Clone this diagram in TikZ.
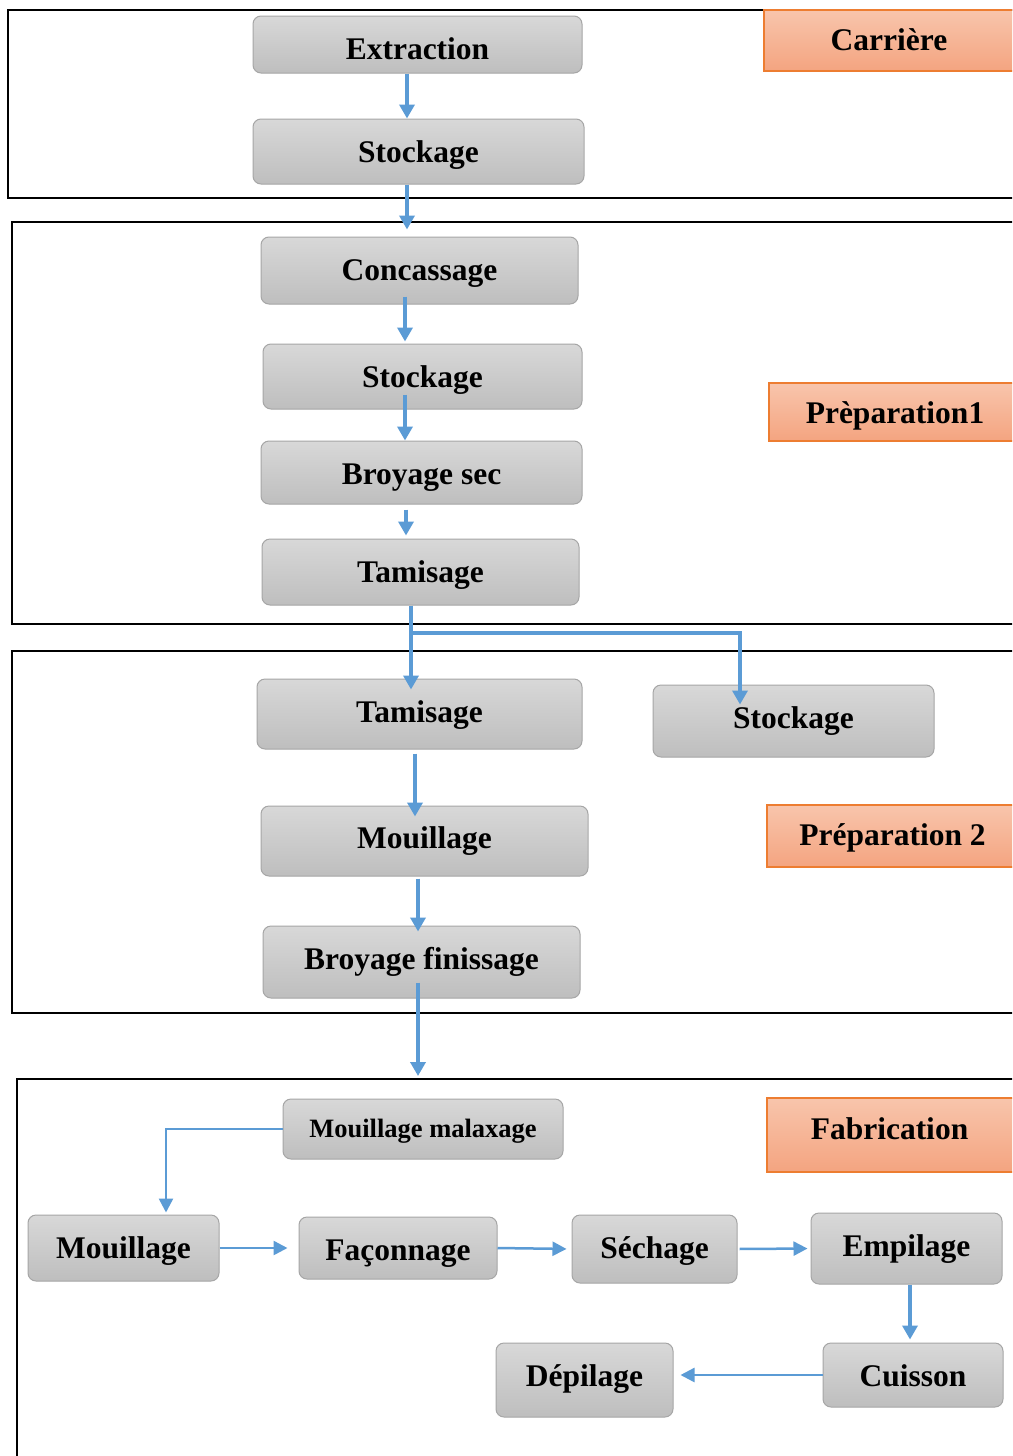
\documentclass[tikz,border=0pt]{standalone}
\usepackage{fontspec}
\setmainfont{Liberation Serif}
\usetikzlibrary{arrows.meta,calc}
\definecolor{flowblue}{RGB}{91,155,213}
\definecolor{boxedge}{RGB}{166,166,166}
\definecolor{boxtop}{RGB}{216,216,216}
\definecolor{boxbot}{RGB}{190,190,190}
\definecolor{ortop}{RGB}{248,197,172}
\definecolor{orbot}{RGB}{244,164,128}
\definecolor{oredge}{RGB}{237,125,49}
\tikzset{
  proc/.style={draw=boxedge, line width=1pt, rounded corners=8pt, top color=boxtop, bottom color=boxbot, inner sep=0pt, text depth=7pt, font=\fontsize{31.5}{36}\selectfont\bfseries},
  tag/.style={draw=oredge, line width=1.2pt, top color=ortop, bottom color=orbot},
  tagtext/.style={font=\fontsize{31.5}{36}\selectfont\bfseries, inner sep=0pt, anchor=base},
  sec/.style={draw=black, line width=2pt},
  arr/.style={draw=flowblue, line width=3.5pt, -{Triangle[length=14pt,width=15pt]}},
  thinarr/.style={draw=flowblue, line width=2.5pt, -{Triangle[length=14pt,width=14pt]}}
}
\begin{document}
\begin{tikzpicture}[x=1pt,y=-1pt]
\useasboundingbox (0,0) rectangle (1012,1456);
\clip (0,0) rectangle (1012,1456);
\fill[white] (0,0) rectangle (1012,1456);
% sections
\draw[sec] (8,10) rectangle (1040,198);
\draw[sec] (12,222) rectangle (1040,624);
\draw[sec] (12,651) rectangle (1040,1013);
\draw[sec] (17,1079) rectangle (1040,1490);
% section tags
\path[tag] (764,10) rectangle (1030,71);
\node[tagtext] (tcar) at (889,50) {Carrière};
\path[tag] (769,383) rectangle (1030,441);
\node[tagtext] (tprep1) at (895,423.3) {Prèparation1};
\path[tag] (767,805) rectangle (1030,867);
\node[tagtext] (tprep2) at (892.5,845) {Préparation 2};
\path[tag] (767,1098) rectangle (1030,1172);
\node[tagtext] (tfab) at (889.5,1139.3) {Fabrication};
% process boxes
\node[proc, minimum width=329pt, minimum height=57pt, text height=37pt] (ext) at (417.5,44.5) {Extraction};
\node[proc, minimum width=331pt, minimum height=65pt, text height=29pt] (st1) at (418.5,151.5) {Stockage};
\node[proc, minimum width=317pt, minimum height=67pt, text height=27pt] (conc) at (419.5,270.5) {Concassage};
\node[proc, minimum width=319pt, minimum height=65pt, text height=29pt] (st2) at (422.5,376.5) {Stockage};
\node[proc, minimum width=321pt, minimum height=63pt, text height=31pt] (bsec) at (421.5,472.5) {Broyage sec};
\node[proc, minimum width=317pt, minimum height=66pt, text height=28pt] (tam1) at (420.5,572) {Tamisage};
\node[proc, minimum width=325pt, minimum height=70pt, text height=24pt] (tam2) at (419.5,714) {Tamisage};
\node[proc, minimum width=281pt, minimum height=72pt, text height=22pt] (st3) at (793.5,721) {Stockage};
\node[proc, minimum width=327pt, minimum height=70pt, text height=22pt] (mou1) at (424.5,841) {Mouillage};
\node[proc, minimum width=317pt, minimum height=72pt, text height=22pt] (bfin) at (421.5,962) {Broyage finissage};
\node[proc, minimum width=280pt, minimum height=60pt, text height=23pt, font=\fontsize{26.5}{30}\selectfont\bfseries] (mmal) at (423,1129) {Mouillage malaxage};
\node[proc, minimum width=191pt, minimum height=66pt, text height=28pt] (mou2) at (123.5,1248) {Mouillage};
\node[proc, minimum width=198pt, minimum height=62pt, text height=32pt] (fac) at (398,1248) {Façonnage};
\node[proc, minimum width=165pt, minimum height=68pt, text height=26pt] (sech) at (654.5,1249) {Séchage};
\node[proc, minimum width=191pt, minimum height=71pt, text height=23pt] (emp) at (906.5,1248.5) {Empilage};
\node[proc, minimum width=180pt, minimum height=64pt, text height=29pt] (cuis) at (913,1375) {Cuisson};
\node[proc, minimum width=177pt, minimum height=74pt, text height=20pt] (dep) at (584.5,1380) {Dépilage};
% helper coordinates
\coordinate (xa) at (407,0);
\coordinate (xb) at (405,0);
\coordinate (xc) at (406,0);
\coordinate (xd) at (411,0);
\coordinate (xe) at (415,0);
\coordinate (xf) at (418,0);
\coordinate (xg) at (740,633);
\coordinate (xh) at (166,0);
\coordinate (xi) at (910,0);
\coordinate (fabin) at (418,1076);
% connectors
\draw[arr] (ext.south -| xa) -- (st1.north -| xa);
\draw[arr, shorten >=7pt] (st1.south -| xa) -- (conc.north -| xa);
\draw[arr, shorten <=-8pt, shorten >=2pt] (conc.south -| xb) -- (st2.north -| xb);
\draw[arr, shorten <=-15pt] (st2.south -| xb) -- (bsec.north -| xb);
\draw[arr, shorten <=5pt, shorten >=3pt] (bsec.south -| xc) -- (tam1.north -| xc);
\draw[arr, shorten >=-11pt] (tam1.south -| xd) -- (tam2.north -| xd);
\draw[arr, shorten >=-20pt] (tam1.south -| xd) |- (xg) -- (st3.north -| xg);
\draw[arr, shorten <=4pt, shorten >=-11pt] (tam2.south -| xe) -- (mou1.north -| xe);
\draw[arr, shorten <=2pt, shorten >=-6pt] (mou1.south -| xf) -- (bfin.north -| xf);
\draw[arr, shorten <=-16pt] (bfin.south -| xf) -- (fabin);
\draw[thinarr, shorten >=2pt] (mmal.west) -| (mou2.north -| xh);
\draw[thinarr, shorten >=11pt] (mou2.east) -- (fac.west);
\draw[thinarr, shorten >=5pt] (fac.east) -- (sech.west);
\draw[thinarr, shorten <=2pt, shorten >=3pt] (sech.east) -- (emp.west);
\draw[arr, shorten >=3pt] (emp.south -| xi) -- (cuis.north -| xi);
\draw[thinarr, shorten >=7pt] (cuis.west) -- (dep.east |- cuis.west);
\end{tikzpicture}
\end{document}
